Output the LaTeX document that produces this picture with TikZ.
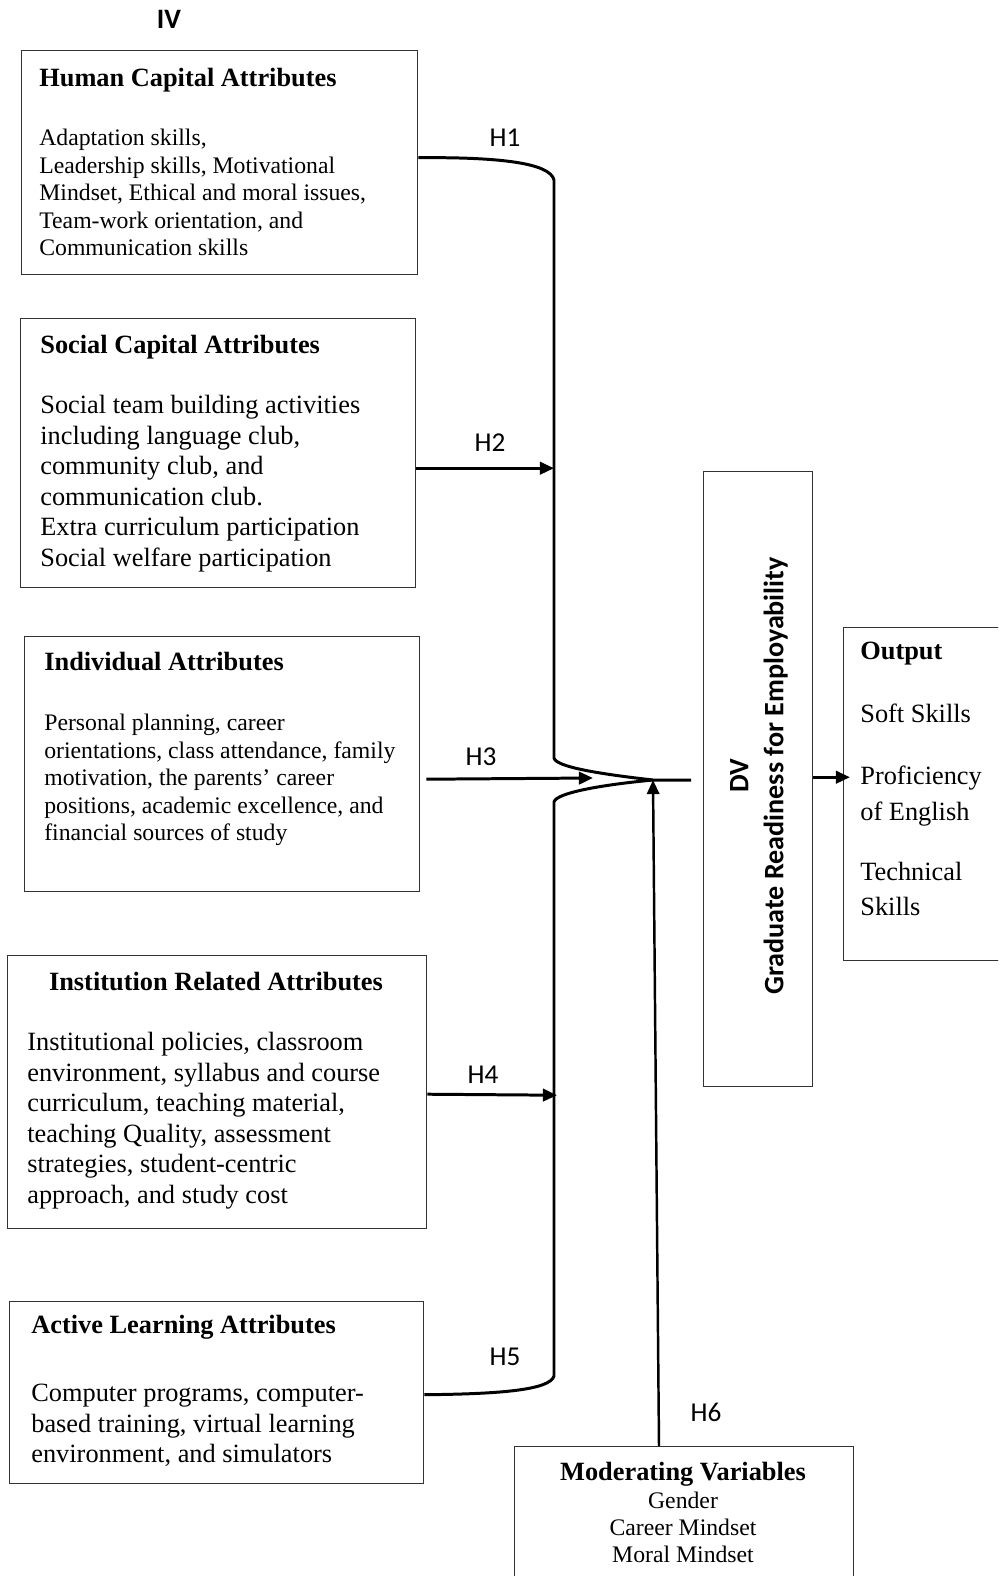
\documentclass[tikz,border=0pt]{standalone}
\usepackage{fontspec}
\setmainfont{Liberation Serif}
\newfontfamily\calibri{Carlito}
\usepackage{tikz}
\usetikzlibrary{calc,arrows.meta}
\def\px{0.02cm}
\tikzset{
	box/.style={draw=black!80, line width=0.8pt, anchor=north west, inner sep=0pt},
	ttl/.style={font=\fontsize{15}{17.4}\selectfont\bfseries, anchor=north west, inner sep=0pt},
	txtsm/.style={font=\fontsize{13.5}{15.6}\selectfont, align=left, anchor=north west, inner sep=0pt},
	txtlg/.style={font=\fontsize{15}{17.4}\selectfont, align=left, anchor=north west, inner sep=0pt},
	hyp/.style={font=\calibri\fontsize{15.5}{18}\selectfont, inner sep=0pt},
	link/.style={line width=1.7pt},
	arr/.style={line width=1.7pt, -{Triangle[length=8pt,width=7pt]}}
}

\begin{document}
\begin{tikzpicture}[x=\px, y=-\px]
		%%%%% START %%%%%
		\clip (0,0) rectangle (998,1576);
		
		\node[font=\calibri\bfseries\fontsize{16}{19}\selectfont, inner sep=0pt] (iv) at (169,19) {IV};
		
		% IV boxes
		\node[box, minimum width=396*\px, minimum height=224*\px] (human) at (21,50) {};
		\node[ttl] (humant) at (39,68) {Human Capital Attributes};
		\node[txtsm] (humanb) at (39,129) {Adaptation skills,\\Leadership skills, Motivational\\Mindset, Ethical and moral issues,\\Team-work orientation, and\\Communication skills};
		
		\node[box, minimum width=395*\px, minimum height=269*\px] (social) at (20,318) {};
		\node[ttl] (socialt) at (40,335) {Social Capital Attributes};
		\node[txtlg] (socialb) at (40,395) {Social team building activities\\including language club,\\community club, and\\communication club.\\Extra curriculum participation\\Social welfare participation};
		
		\node[box, minimum width=395*\px, minimum height=255*\px] (indiv) at (24,636) {};
		\node[ttl] (indivt) at (44,652) {Individual Attributes};
		\node[txtsm] (indivb) at (44,714) {Personal planning, career\\orientations, class attendance, family\\motivation, the parents’ career\\positions, academic excellence, and\\financial sources of study};
		
		\node[box, minimum width=419*\px, minimum height=273*\px] (inst) at (7,955) {};
		\node[ttl, anchor=north] (instt) at (216,972) {Institution Related Attributes};
		\node[txtlg] (instb) at (27,1032) {Institutional policies, classroom\\environment, syllabus and course\\curriculum, teaching material,\\teaching Quality, assessment\\strategies, student-centric\\approach, and study cost};
		
		\node[box, minimum width=414*\px, minimum height=182*\px] (active) at (9,1301) {};
		\node[ttl] (activet) at (31,1315) {Active Learning Attributes};
		\node[txtlg] (activeb) at (31,1384) {Computer programs, computer-\\based training, virtual learning\\environment, and simulators};
		
		% moderator, DV, output
		\node[box, minimum width=339*\px, minimum height=160*\px] (moder) at (514,1446) {};
		\node[ttl, anchor=north] (modert) at (683,1462) {Moderating Variables};
		\node[font=\fontsize{13.5}{15.3}\selectfont, align=center, anchor=north, inner sep=0pt] (moderb) at (683,1492) {Gender\\Career Mindset\\Moral Mindset};
		
		\node[box, minimum width=109*\px, minimum height=615*\px] (dv) at (703,471) {};
		\node[font=\calibri\bfseries\fontsize{16}{20}\selectfont, align=center, rotate=90, inner sep=0pt] (dvt) at (759,776) {DV\\Graduate Readiness for Employability};
		
		\node[box, minimum width=157*\px, minimum height=333*\px] (output) at (843,627) {};
		\node[ttl] (outputt) at (860,642) {Output};
		\node[txtlg] (soft) at (860,704) {Soft Skills};
		\node[txtlg, font=\fontsize{15}{20}\selectfont] (prof) at (860,766) {Proficiency\\of English};
		\node[txtlg, font=\fontsize{15}{20}\selectfont] (tech) at (860,862) {Technical\\Skills};
		
		% hypotheses
		\node[hyp] (h1) at (505,138) {H1};
		\node[hyp] (h2) at (490,443) {H2};
		\node[hyp] (h3) at (481,757) {H3};
		\node[hyp] (h4) at (483,1075) {H4};
		\node[hyp] (h5) at (505,1357) {H5};
		\node[hyp] (h6) at (706,1412) {H6};
		
		\coordinate (spine) at (554,0);
		\coordinate (jn) at (653,780);
		\coordinate (dvin) at (691,780);
		\coordinate (h3end) at (593,778);
		
		\draw[link] ($(human.east)+(0,-5)$) .. controls (500,157) and (550,163) .. (554,180) -- (554,758) .. controls (556,767) and (600,774) .. (jn) -- (dvin);
		\draw[link] ($(active.east)+(0,2)$) .. controls (500,1394) and (550,1390) .. (554,1376) -- (554,802) .. controls (556,793) and (600,785) .. (jn);
		
		\draw[arr] ($(social.east)+(0,15)$) -- ($(social.east -| spine)+(0,15)$);
		\draw[arr] ($(indiv.east)+(6,15)$) -- (h3end);
		\draw[arr] ($(inst.east)+(0,2)$) -- ($(inst.east -| spine)+(3,3)$);
		\draw[arr, line width=1.4pt] ($(moder.north west)+(145,0)$) -- (jn);
		\draw[arr] ($(dv.east)+(0,-2)$) -- ($(dv.east -| output.west)+(7,-2)$);
		
		%%%%% END %%%%%
\end{tikzpicture}
\end{document}
